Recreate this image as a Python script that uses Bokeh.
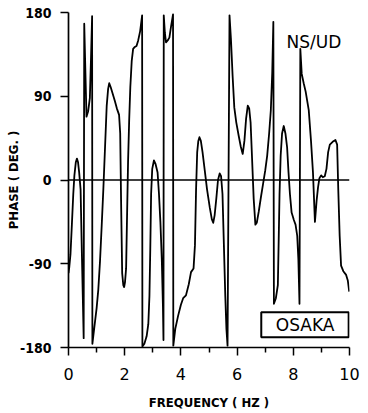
from bokeh.plotting import figure
from bokeh.models import Range1d, FixedTicker, Span, BoxAnnotation, Label
from bokeh.embed import file_html
from bokeh.resources import INLINE

# ---- data ----
freq = [0.00, 0.03, 0.07, 0.12, 0.17, 0.21, 0.26, 0.30, 0.34, 0.38, 0.43, 0.48, 0.54,
        0.56, 0.60, 0.64, 0.70, 0.76, 0.80, 0.84,
        0.85, 0.92, 1.00, 1.06, 1.12, 1.18, 1.24, 1.30, 1.36, 1.41, 1.45, 1.50, 1.57,
        1.65, 1.72, 1.80, 1.84, 1.87, 1.91, 1.95, 1.98, 2.01, 2.05, 2.08, 2.12, 2.16,
        2.20, 2.25, 2.30, 2.36, 2.42, 2.48, 2.55, 2.62,
        2.63, 2.70, 2.78, 2.84, 2.88, 2.91, 2.94, 2.98, 3.04, 3.10, 3.17, 3.22, 3.27,
        3.32, 3.36, 3.38,
        3.39, 3.43, 3.47, 3.53, 3.59, 3.65, 3.72,
        3.73, 3.80, 3.90, 4.00, 4.08, 4.18, 4.28, 4.36, 4.45, 4.50, 4.54, 4.58, 4.62,
        4.66, 4.71, 4.77, 4.85, 4.93, 5.03, 5.10, 5.15, 5.20, 5.26, 5.32, 5.38, 5.43,
        5.48, 5.53, 5.58, 5.62, 5.66,
        5.73, 5.78, 5.84, 5.90, 5.97, 6.06, 6.13, 6.20, 6.26, 6.32, 6.38, 6.43, 6.48,
        6.53, 6.59, 6.65, 6.70, 6.77, 6.85, 6.92, 7.00, 7.07, 7.14, 7.20, 7.25, 7.29,
        7.31, 7.38, 7.45, 7.48, 7.51, 7.55, 7.60, 7.66, 7.72, 7.78, 7.83, 7.88, 7.94,
        8.02, 8.08, 8.14, 8.18, 8.22,
        8.25, 8.30, 8.37, 8.44, 8.55, 8.63, 8.70, 8.77, 8.83, 8.88, 8.93, 8.99, 9.05,
        9.12, 9.18, 9.24, 9.30, 9.40, 9.50, 9.56, 9.60, 9.65, 9.70, 9.78, 9.88, 9.94,
        9.99]
phase = [-100, -93, -80, -48, -15, 5, 19, 23, 19, 8, -10, -85, -170,
         168, 118, 68, 74, 88, 130, 176,
         -176, -158, -138, -118, -88, -50, -10, 35, 80, 98, 104, 100, 93,
         85, 77, 70, 50, -20, -100, -113, -115, -110, -95, -45, 20, 65,
         100, 128, 141, 143, 144, 150, 160, 177,
         -179, -176, -168, -155, -125, -75, -15, 12, 21, 17, 8, -15, -45,
         -85, -135, -172,
         177, 158, 148, 150, 153, 165, 178,
         -178, -160, -146, -134, -127, -124, -112, -99, -95, -70, -10, 30, 42,
         46, 42, 30, 10, -10, -30, -42, -46, -38, -20, 0, 7, 4,
         -15, -70, -125, -160, -178,
         177, 152, 112, 78, 62, 47, 36, 28, 42, 66, 80, 77, 62,
         25, -20, -48, -46, -34, -18, -5, 10, 26, 50, 75, 115, 170,
         -133, -127, -113, -65, -15, 26, 50, 58, 50, 35, 8, -15, -35,
         -43, -48, -60, -85, -133,
         141, 114, 104, 95, 75, 42, 8, -45, -22, -8, 2, 5, 3,
         4, 12, 30, 38, 41, 43, 38, -10, -60, -92, -98, -102, -108,
         -120]

x_ticks = [0, 2, 4, 6, 8, 10]
x_minor_ticks = [1, 3, 5, 7, 9]
y_ticks = [-180, -90, 0, 90, 180]
y_tick_labels = {-180: "-180", -90: "-90", 0: "0", 90: "90", 180: "180"}

COND = "DejaVu Sans Condensed"

p = figure(frame_width=281, frame_height=335,
           x_range=Range1d(0, 10), y_range=Range1d(-180, 180),
           output_backend="svg", toolbar_location=None,
           min_border_left=68, min_border_right=19,
           min_border_top=12, min_border_bottom=66)
p.outline_line_color = None
p.xgrid.visible = False
p.ygrid.visible = False
p.background_fill_color = "white"

# zero line
p.add_layout(Span(location=0, dimension="width", line_color="black", line_width=1.3))

# curve
p.line(freq, phase, line_color="black", line_width=1.8, line_join="round")

# OSAKA box
p.add_layout(BoxAnnotation(left=6.86, right=9.97, bottom=-169, top=-142,
                           fill_color="white", fill_alpha=1.0,
                           line_color="black", line_width=2, line_alpha=1.0))
p.add_layout(Label(x=8.42, y=-156, text="OSAKA", text_align="center",
                   text_baseline="middle", text_font="DejaVu Sans",
                   text_font_size="17px", text_color="black"))
p.add_layout(Label(x=7.76, y=148, text="NS/UD", text_align="left",
                   text_baseline="alphabetic", text_font="DejaVu Sans",
                   text_font_size="17px", text_color="black"))

# x axis
xa = p.xaxis[0]
xa.ticker = FixedTicker(ticks=x_ticks, minor_ticks=x_minor_ticks)
xa.axis_line_width = 1.7
xa.major_tick_line_width = 1.5
xa.minor_tick_line_width = 1.5
xa.major_tick_out = 8
xa.major_tick_in = 0
xa.minor_tick_out = 5
xa.minor_tick_in = 0
xa.major_label_text_font = "DejaVu Sans"
xa.major_label_text_font_size = "16px"
xa.major_label_text_color = "black"
xa.major_label_standoff = 12
xa.axis_label = "FREQUENCY ( HZ )"
xa.axis_label_text_font = COND
xa.axis_label_text_font_style = "bold"
xa.axis_label_text_font_size = "13px"
xa.axis_label_text_color = "black"
xa.axis_label_standoff = 12

# y axis
ya = p.yaxis[0]
ya.ticker = FixedTicker(ticks=y_ticks, minor_ticks=[])
ya.major_label_overrides = y_tick_labels
ya.axis_line_width = 1.7
ya.major_tick_line_width = 1.5
ya.major_tick_out = 8
ya.major_tick_in = 0
ya.minor_tick_out = 0
ya.minor_tick_in = 0
ya.major_label_text_font = COND
ya.major_label_text_font_style = "bold"
ya.major_label_text_font_size = "14px"
ya.major_label_text_color = "black"
ya.major_label_standoff = 9
ya.axis_label = "PHASE ( DEG. )"
ya.axis_label_text_font = COND
ya.axis_label_text_font_style = "bold"
ya.axis_label_text_font_size = "13px"
ya.axis_label_text_color = "black"
ya.axis_label_standoff = -4

open("out.html", "w").write(file_html(p, INLINE))
